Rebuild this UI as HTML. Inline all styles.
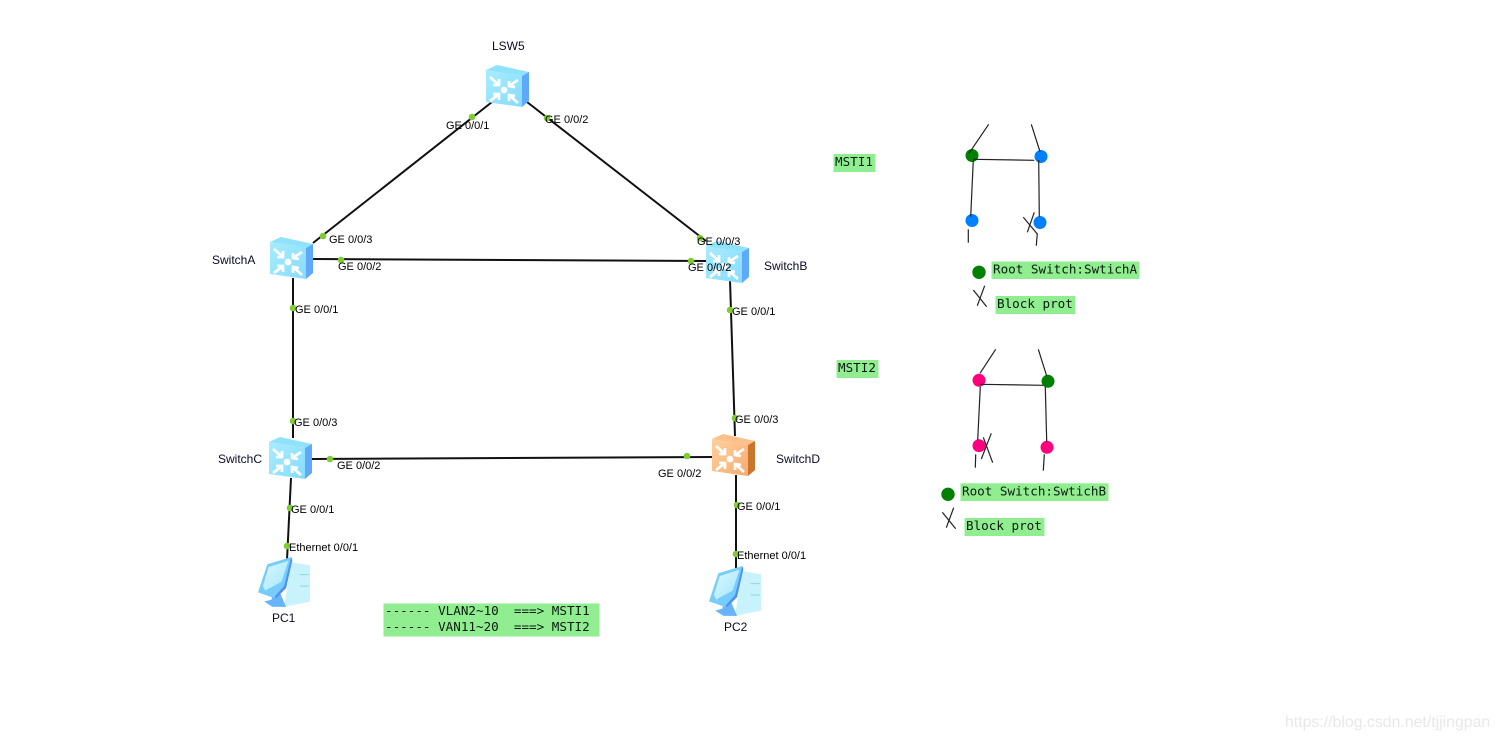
<!DOCTYPE html>
<html>
<head>
<meta charset="utf-8">
<style>
html,body{margin:0;padding:0;background:#fff;width:1498px;height:739px;overflow:hidden}
svg{display:block}
.l{font:11px "Liberation Sans",sans-serif;fill:#000}
.n{font:12px "Liberation Sans",sans-serif;fill:#0a0a28}
.m{font:12.6px "DejaVu Sans Mono","Liberation Mono",monospace;fill:#0a1a10;white-space:pre}
.w{font:15.85px "Liberation Sans",sans-serif;fill:#e8e8e8}
.b{fill:#90ee90}
.k{stroke:#111;stroke-width:2;fill:none}
.t{stroke:#222;stroke-width:1.2;fill:none}
.d{fill:#7fcc33}
</style>
</head>
<body>
<svg width="1498" height="739" viewBox="0 0 1498 739" xmlns="http://www.w3.org/2000/svg">
<defs>
<linearGradient id="gb" x1="0" y1="0" x2="1" y2="1"><stop offset="0" stop-color="#a8ecff"/><stop offset="1" stop-color="#86dcfb"/></linearGradient>
<linearGradient id="go" x1="0" y1="0" x2="1" y2="1"><stop offset="0" stop-color="#ffd0a0"/><stop offset="1" stop-color="#f8ab6c"/></linearGradient>
<linearGradient id="gs" x1="0" y1="0" x2="1" y2="1"><stop offset="0" stop-color="#d9f8ff"/><stop offset="1" stop-color="#a5e6fb"/></linearGradient>
<g id="arrows" stroke="#fff" stroke-width="2.7" fill="none">
<path d="M4 12 L13 20 M13 14 L13 20 L7 20"/>
<path d="M32 15 L23 21 M23 16 L23 21 L29 22"/>
<path d="M4 36 L13 29 M7 29 L13 29 L13 35"/>
<path d="M32 38 L23 30 M23 36 L23 30 L29 31"/>
<circle cx="18" cy="25" r="3.4" fill="#fff" stroke="none"/>
</g>
<g id="swb">
<path d="M0 5 L11 0 L43 7 L36 11Z" fill="#8fe2fb"/>
<path d="M0 5 L36 11 L36 42 L0 37Z" fill="url(#gb)"/>
<path d="M36 11 L43 7 L43 36 L36 42Z" fill="#5fa9fb"/>
<use href="#arrows"/>
</g>
<g id="swo">
<path d="M0 5 L11 0 L43 7 L36 11Z" fill="#fcc18a"/>
<path d="M0 5 L36 11 L36 42 L0 37Z" fill="url(#go)"/>
<path d="M36 11 L43 7 L43 36 L36 42Z" fill="#c9752c"/>
<use href="#arrows"/>
</g>
<g id="pc">
<path d="M32 4 L50 7 L50 42 L25 47Z" fill="#c9f3fc"/>
<path d="M40 16 L49 16 M40 27 L49 27" stroke="#8fd8f0" stroke-width="1"/>
<path d="M6 42 L13 40 L14 33 L21 33 L27 47 L14 47Z" fill="#68b4fb"/>
<path d="M0 33 L2 27 L9 6 L32 -1 L33 2 L27 29 L17 39Z" fill="#76cdfb"/>
<path d="M32 -1 L33 2 L27 29 L17 39 L16 37 L25 27Z" fill="#4f92f2"/>
<path d="M4.7 27 L10.3 8.7 L29.3 2.7 L22.7 22.7 L7 31.3Z" fill="url(#gs)"/>
</g>
</defs>

<!-- links -->
<g class="k">
<path d="M492 102 L313 243"/>
<path d="M527 102 L706 241"/>
<path d="M313 259 L707 261"/>
<path d="M293 278 L293 438"/>
<path d="M730 280 L735 436"/>
<path d="M312 459 L713 457"/>
<path d="M291 478 L287 560"/>
<path d="M736 475 L736 568"/>
</g>

<!-- devices -->
<use href="#swb" x="486" y="65"/>
<use href="#swb" x="270" y="237"/>
<use href="#swb" x="706" y="241"/>
<use href="#swb" x="269" y="437"/>
<use href="#swo" x="712" y="434"/>
<use href="#pc" transform="translate(258 558) scale(1.04)"/>
<use href="#pc" transform="translate(709 567) scale(1.04)"/>

<!-- port dots -->
<g class="d">
<circle cx="472" cy="117" r="3.3"/><circle cx="547" cy="118" r="3.3"/>
<circle cx="323" cy="236" r="3.3"/><circle cx="341" cy="260" r="3.3"/>
<circle cx="700" cy="238" r="3.3"/><circle cx="691" cy="261" r="3.3"/>
<circle cx="293" cy="308" r="3.3"/><circle cx="730" cy="310" r="3.3"/>
<circle cx="293" cy="421" r="3.3"/><circle cx="735" cy="418" r="3.3"/>
<circle cx="330" cy="459" r="3.3"/><circle cx="687" cy="456" r="3.3"/>
<circle cx="290" cy="508" r="3.3"/><circle cx="737" cy="505" r="3.3"/>
<circle cx="287" cy="546" r="3.3"/><circle cx="736" cy="554" r="3.3"/>
</g>

<!-- port labels -->
<g class="l">
<text x="446" y="129">GE 0/0/1</text>
<text x="545" y="123">GE 0/0/2</text>
<text x="329" y="243">GE 0/0/3</text>
<text x="338" y="270">GE 0/0/2</text>
<text x="697" y="245">GE 0/0/3</text>
<text x="688" y="271">GE 0/0/2</text>
<text x="295" y="313">GE 0/0/1</text>
<text x="732" y="315">GE 0/0/1</text>
<text x="294" y="426">GE 0/0/3</text>
<text x="735" y="423">GE 0/0/3</text>
<text x="337" y="469">GE 0/0/2</text>
<text x="658" y="477">GE 0/0/2</text>
<text x="291" y="513">GE 0/0/1</text>
<text x="737" y="510">GE 0/0/1</text>
<text x="289" y="551">Ethernet 0/0/1</text>
<text x="737" y="559">Ethernet 0/0/1</text>
</g>

<!-- device names -->
<g class="n">
<text x="492" y="50">LSW5</text>
<text x="212" y="264">SwitchA</text>
<text x="764" y="270">SwitchB</text>
<text x="218" y="463">SwitchC</text>
<text x="776" y="463">SwitchD</text>
<text x="272" y="622">PC1</text>
<text x="724" y="631">PC2</text>
</g>

<!-- legend VLAN -->
<rect class="b" x="383.5" y="603.5" width="216" height="33"/>
<text class="m" x="385" y="615" xml:space="preserve">------ VLAN2~10  ===&gt; MSTI1</text>
<text class="m" x="385" y="631" xml:space="preserve">------ VAN11~20  ===&gt; MSTI2</text>

<!-- MSTI1 -->
<rect class="b" x="833.5" y="154" width="42" height="18"/>
<text class="m" x="835" y="166">MSTI1</text>
<circle cx="972" cy="155.5" r="6.5" fill="#008000"/>
<circle cx="1041" cy="156.5" r="6.5" fill="#0080ff"/>
<circle cx="972" cy="220.5" r="6.5" fill="#0080ff"/>
<circle cx="1040" cy="222.5" r="6.5" fill="#0080ff"/>
<g class="t">
<path d="M988.7 124.3 L969 153.3"/>
<path d="M1031.3 124.3 L1040 151.7"/>
<path d="M973.3 159.3 L1034.3 160.3"/>
<path d="M973.3 160 L970.7 216.7"/>
<path d="M1038.7 160 L1039.3 216.7"/>
<path d="M968.3 229.3 L968.3 242.7"/>
<path d="M1037.3 233.3 L1036.3 245.7"/>
<path d="M1034.3 212.3 L1027.3 232.3"/>
<path d="M1023.3 217.3 L1037.3 234"/>
<path d="M984.7 285.7 L977.3 305.7"/>
<path d="M973.3 290 L986.7 306.7"/>
</g>
<circle cx="979" cy="272.3" r="6.7" fill="#008000"/>
<rect class="b" x="991.5" y="261.5" width="148" height="17.5"/>
<text class="m" x="993" y="273.5">Root Switch:SwtichA</text>
<rect class="b" x="995.5" y="296" width="80" height="18"/>
<text class="m" x="997" y="308">Block prot</text>

<!-- MSTI2 -->
<rect class="b" x="836.5" y="360" width="42" height="18"/>
<text class="m" x="838" y="372">MSTI2</text>
<circle cx="979" cy="380.3" r="6.5" fill="#ff0080"/>
<circle cx="1048" cy="381.3" r="6.5" fill="#008000"/>
<circle cx="979" cy="445.7" r="6.5" fill="#ff0080"/>
<circle cx="1047" cy="447.3" r="6.5" fill="#ff0080"/>
<g class="t">
<path d="M995.7 349.3 L980 373.3"/>
<path d="M1038.3 349.3 L1046.7 376"/>
<path d="M980 384.3 L1043.3 385.3"/>
<path d="M980.3 386.7 L977.7 440"/>
<path d="M1045.3 386.7 L1046.7 441.7"/>
<path d="M975.7 454.3 L975.3 467.7"/>
<path d="M1044.3 454.3 L1043.3 470.7"/>
<path d="M991.3 433.3 L981.3 459"/>
<path d="M983.3 437.3 L992.7 462.7"/>
<path d="M953.7 507.7 L946.3 527.7"/>
<path d="M942.3 512.3 L955.7 528.7"/>
</g>
<circle cx="948" cy="494.3" r="6.7" fill="#008000"/>
<rect class="b" x="960.5" y="483.3" width="148" height="17.7"/>
<text class="m" x="962" y="495.5">Root Switch:SwtichB</text>
<rect class="b" x="964.5" y="518" width="80" height="18"/>
<text class="m" x="966" y="530">Block prot</text>

<!-- watermark -->
<text class="w" x="1285" y="727">https://blog.csdn.net/tjjingpan</text>
</svg>
</body>
</html>
